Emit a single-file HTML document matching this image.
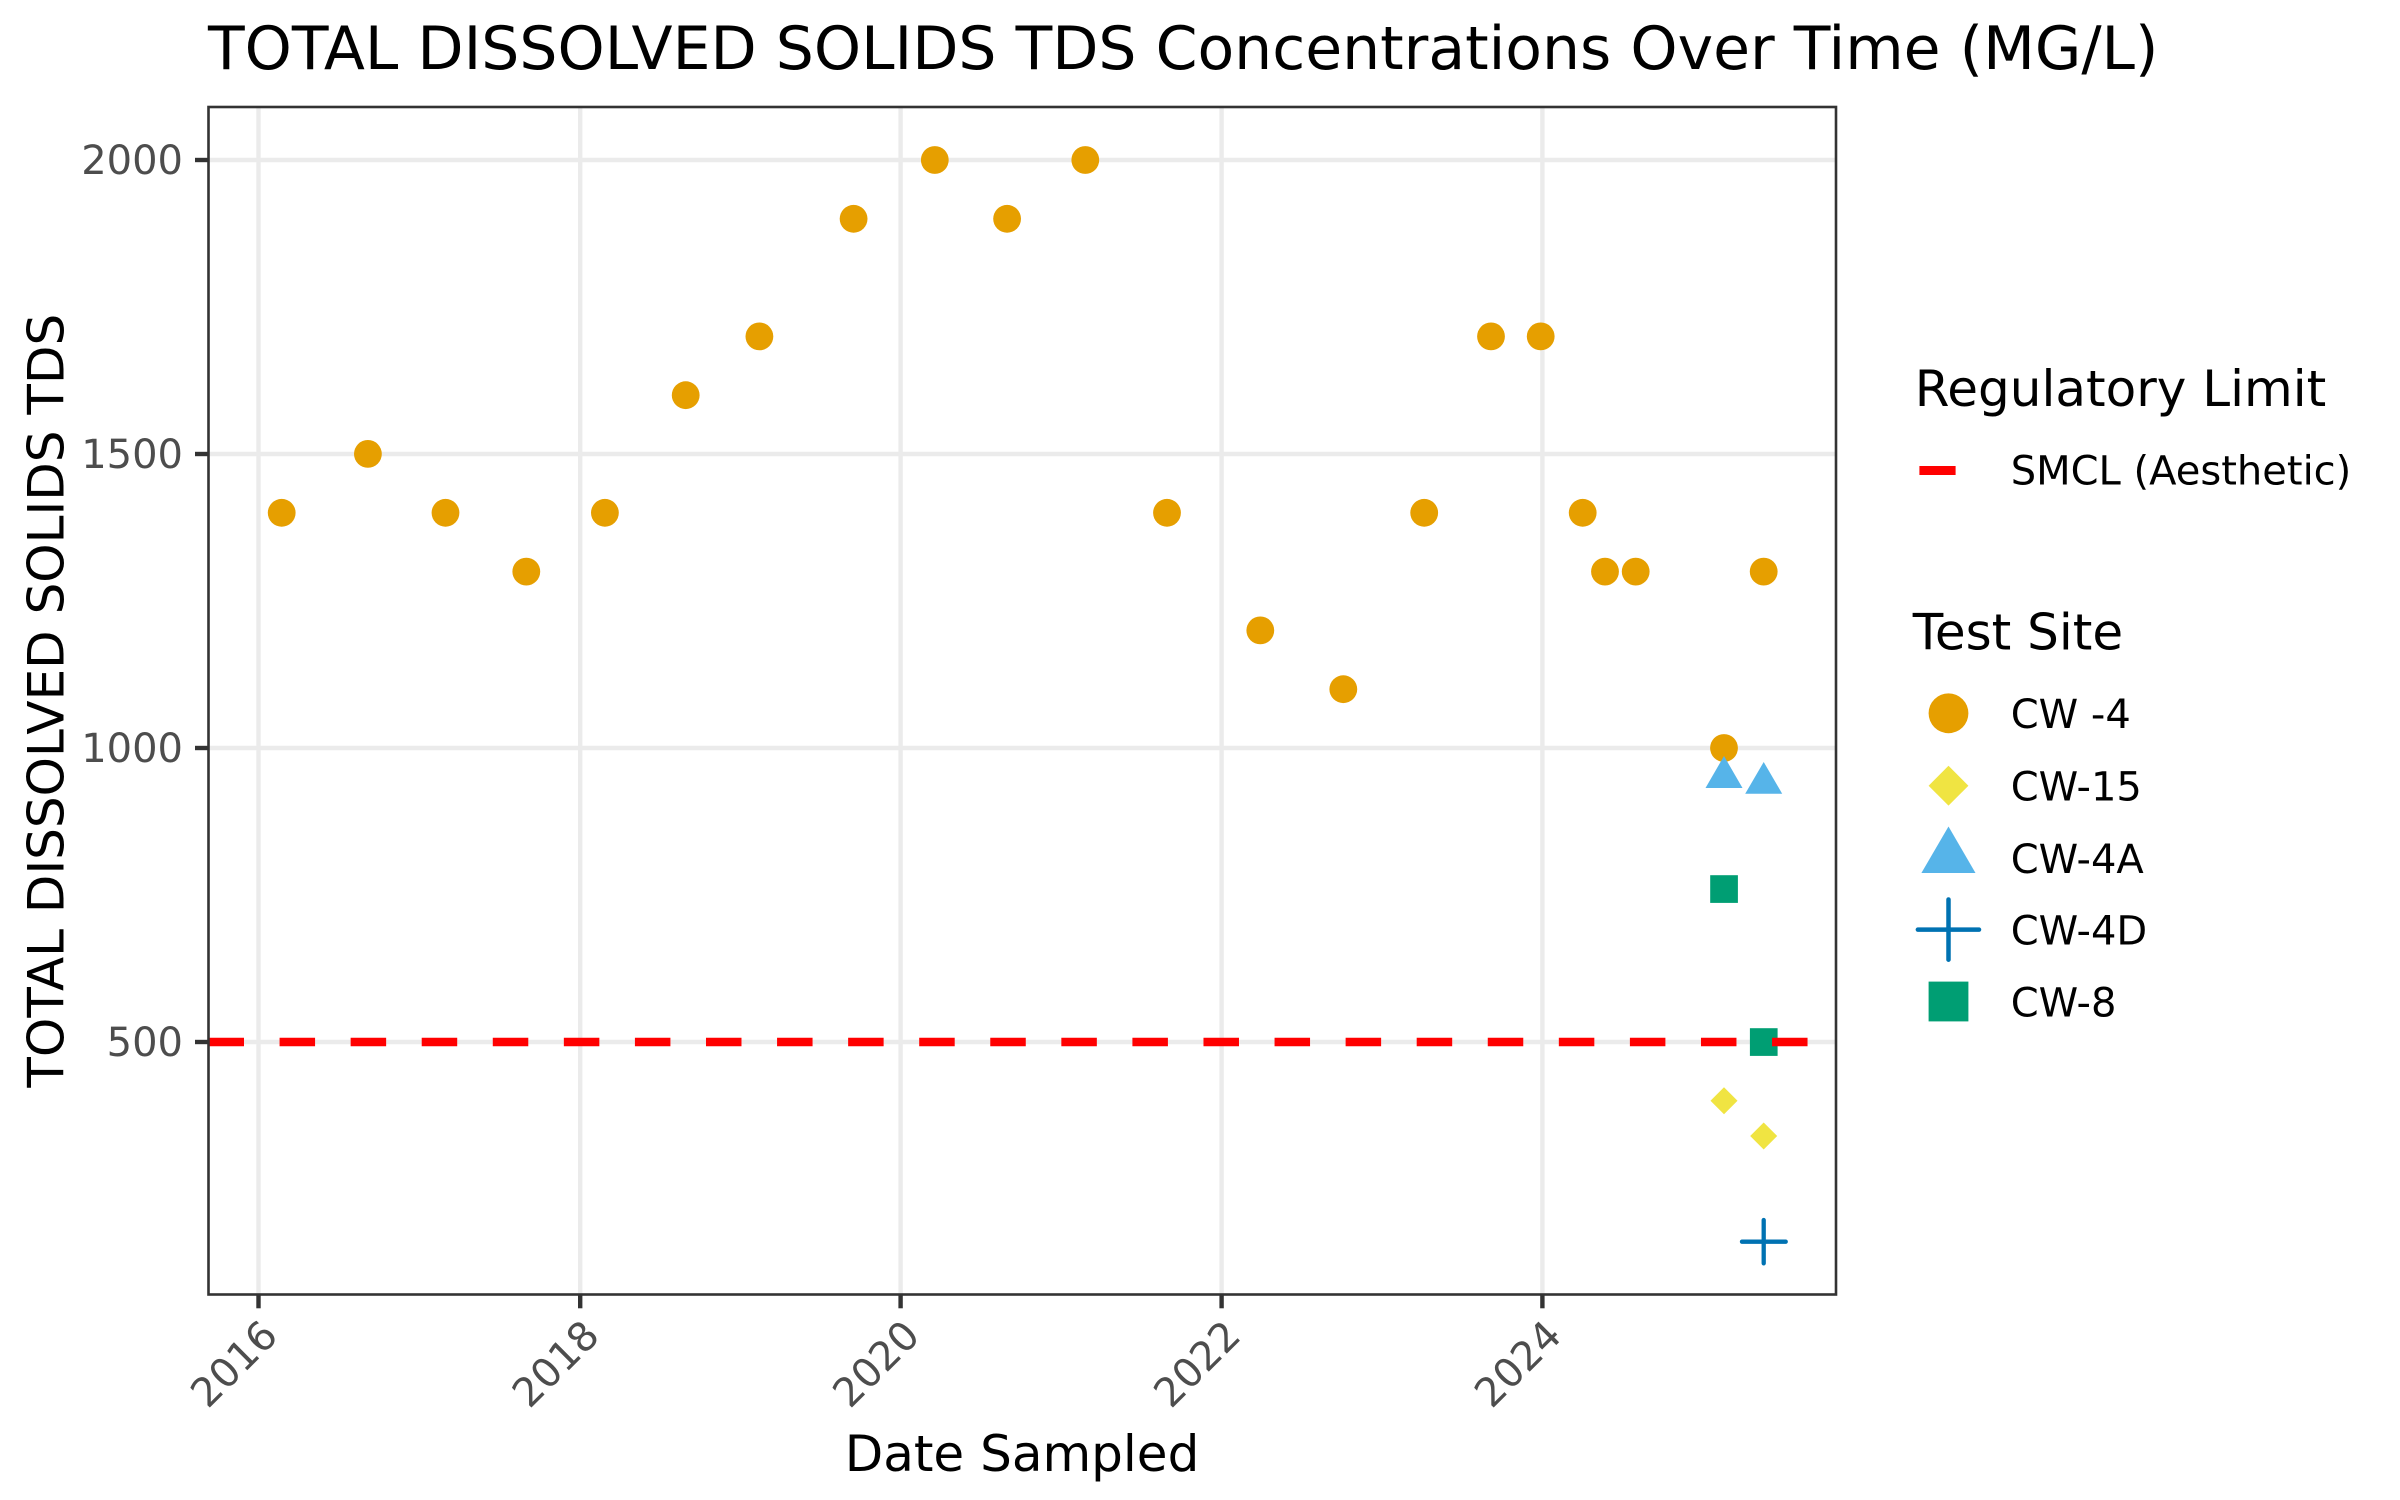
<!DOCTYPE html>
<html>
<head>
<meta charset="utf-8">
<style>
html,body{margin:0;padding:0;background:#fff;}
svg{display:block;}
text{font-family:"DejaVu Sans","Liberation Sans",sans-serif;}
</style>
</head>
<body>
<svg width="2400" height="1500" viewBox="0 0 2400 1500" xmlns="http://www.w3.org/2000/svg">
<rect x="0" y="0" width="2400" height="1500" fill="#fff"/>

<!-- title -->
<text x="208" y="69" font-size="60" fill="#000">TOTAL DISSOLVED SOLIDS TDS Concentrations Over Time (MG/L)</text>

<!-- panel background -->
<rect x="208.5" y="107" width="1627.5" height="1187.5" fill="#fff"/>

<!-- major gridlines -->
<g stroke="#EBEBEB" stroke-width="4.4">
  <line x1="208.5" y1="160" x2="1836" y2="160"/>
  <line x1="208.5" y1="454" x2="1836" y2="454"/>
  <line x1="208.5" y1="748" x2="1836" y2="748"/>
  <line x1="208.5" y1="1042" x2="1836" y2="1042"/>
  <line x1="258.5" y1="107" x2="258.5" y2="1294.5"/>
  <line x1="580.2" y1="107" x2="580.2" y2="1294.5"/>
  <line x1="900.6" y1="107" x2="900.6" y2="1294.5"/>
  <line x1="1221.6" y1="107" x2="1221.6" y2="1294.5"/>
  <line x1="1542.4" y1="107" x2="1542.4" y2="1294.5"/>
</g>

<!-- CW -4 circles -->
<g fill="#E69F00">
  <circle cx="281.7" cy="512.8" r="13.9"/>
  <circle cx="367.9" cy="453.9" r="13.9"/>
  <circle cx="445.5" cy="512.8" r="13.9"/>
  <circle cx="526.3" cy="571.6" r="13.9"/>
  <circle cx="604.9" cy="512.8" r="13.9"/>
  <circle cx="685.7" cy="395.2" r="13.9"/>
  <circle cx="759.4" cy="336.4" r="13.9"/>
  <circle cx="853.6" cy="218.8" r="13.9"/>
  <circle cx="934.8" cy="160" r="13.9"/>
  <circle cx="1007.1" cy="218.8" r="13.9"/>
  <circle cx="1085.3" cy="160" r="13.9"/>
  <circle cx="1167" cy="512.8" r="13.9"/>
  <circle cx="1260.3" cy="630.4" r="13.9"/>
  <circle cx="1343.3" cy="689.2" r="13.9"/>
  <circle cx="1424.2" cy="512.8" r="13.9"/>
  <circle cx="1491" cy="336.4" r="13.9"/>
  <circle cx="1540.7" cy="336.4" r="13.9"/>
  <circle cx="1582.7" cy="512.8" r="13.9"/>
  <circle cx="1605" cy="571.6" r="13.9"/>
  <circle cx="1635.7" cy="571.6" r="13.9"/>
  <circle cx="1724" cy="748" r="13.9"/>
  <circle cx="1763.7" cy="571.6" r="13.9"/>
</g>

<!-- CW-15 diamonds -->
<g fill="#F0E442">
  <polygon points="1724,1087.2 1737.5,1100.7 1724,1114.2 1710.5,1100.7"/>
  <polygon points="1763.7,1122.5 1777.2,1136 1763.7,1149.5 1750.2,1136"/>
</g>

<!-- CW-4A triangles -->
<g fill="#56B4E9">
  <polygon points="1724,756 1742.5,788 1705.5,788"/>
  <polygon points="1763.7,762 1782.2,793.7 1745.2,793.7"/>
</g>

<!-- CW-4D plus -->
<g stroke="#0072B2" stroke-width="4.3" stroke-linecap="round">
  <line x1="1742" y1="1241.7" x2="1785.7" y2="1241.7"/>
  <line x1="1763.7" y1="1220" x2="1763.7" y2="1263.3"/>
</g>

<!-- CW-8 squares -->
<g fill="#009E73">
  <rect x="1710.2" y="875.2" width="27.7" height="27.7"/>
  <rect x="1749.9" y="1028.2" width="27.7" height="27.7"/>
</g>

<!-- SMCL dashed line -->
<line x1="208.5" y1="1042" x2="1836" y2="1042" stroke="#FF0000" stroke-width="8.6" stroke-dasharray="35.5 35.57"/>

<!-- panel border -->
<rect x="208.5" y="107" width="1627.5" height="1187.5" fill="none" stroke="#333333" stroke-width="2.6"/>

<!-- y ticks -->
<g stroke="#333333" stroke-width="4.4">
  <line x1="195" y1="160" x2="208.5" y2="160"/>
  <line x1="195" y1="454" x2="208.5" y2="454"/>
  <line x1="195" y1="748" x2="208.5" y2="748"/>
  <line x1="195" y1="1042" x2="208.5" y2="1042"/>
</g>
<!-- x ticks -->
<g stroke="#333333" stroke-width="4.4">
  <line x1="258.5" y1="1294.5" x2="258.5" y2="1308.3"/>
  <line x1="580.2" y1="1294.5" x2="580.2" y2="1308.3"/>
  <line x1="900.6" y1="1294.5" x2="900.6" y2="1308.3"/>
  <line x1="1221.6" y1="1294.5" x2="1221.6" y2="1308.3"/>
  <line x1="1542.4" y1="1294.5" x2="1542.4" y2="1308.3"/>
</g>

<!-- y tick labels -->
<g font-size="40" fill="#4D4D4D" text-anchor="end">
  <text x="183" y="174">2000</text>
  <text x="183" y="468">1500</text>
  <text x="183" y="762">1000</text>
  <text x="183" y="1056">500</text>
</g>

<!-- x tick labels -->
<g font-size="40" fill="#4D4D4D" text-anchor="end">
  <text transform="translate(279.7,1337.7) rotate(-45)">2016</text>
  <text transform="translate(601.4,1337.7) rotate(-45)">2018</text>
  <text transform="translate(921.8,1337.7) rotate(-45)">2020</text>
  <text transform="translate(1242.8,1337.7) rotate(-45)">2022</text>
  <text transform="translate(1563.6,1337.7) rotate(-45)">2024</text>
</g>

<!-- axis titles -->
<text x="1022" y="1471" font-size="50" fill="#000" text-anchor="middle">Date Sampled</text>
<text transform="translate(63.5,700.7) rotate(-90)" font-size="50" fill="#000" text-anchor="middle">TOTAL DISSOLVED SOLIDS TDS</text>

<!-- legend: Regulatory Limit -->
<text x="1914.8" y="406" font-size="50" fill="#000">Regulatory Limit</text>
<rect x="1919.4" y="466" width="36.2" height="9" fill="#FF0000"/>
<text x="2010.7" y="484.5" font-size="40" fill="#000">SMCL (Aesthetic)</text>

<!-- legend: Test Site -->
<text x="1912.8" y="649.5" font-size="50" fill="#000">Test Site</text>
<circle cx="1948.5" cy="713.3" r="19.9" fill="#E69F00"/>
<text x="2010.7" y="728" font-size="40" fill="#000">CW -4</text>

<polygon points="1948.5,765.8 1968.4,785.7 1948.5,805.6 1928.6,785.7" fill="#F0E442"/>
<text x="2010.7" y="800.4" font-size="40" fill="#000">CW-15</text>

<polygon points="1948.5,826.5 1975.5,873 1921.4,873" fill="#56B4E9"/>
<text x="2010.7" y="872.8" font-size="40" fill="#000">CW-4A</text>

<g stroke="#0072B2" stroke-width="4.5" stroke-linecap="round">
  <line x1="1917.9" y1="929.6" x2="1979" y2="929.6"/>
  <line x1="1948.5" y1="899.5" x2="1948.5" y2="959.7"/>
</g>
<text x="2010.7" y="944.6" font-size="40" fill="#000">CW-4D</text>

<rect x="1928.6" y="981.6" width="39.8" height="39.8" fill="#009E73"/>
<text x="2010.7" y="1016.4" font-size="40" fill="#000">CW-8</text>
</svg>
</body>
</html>
